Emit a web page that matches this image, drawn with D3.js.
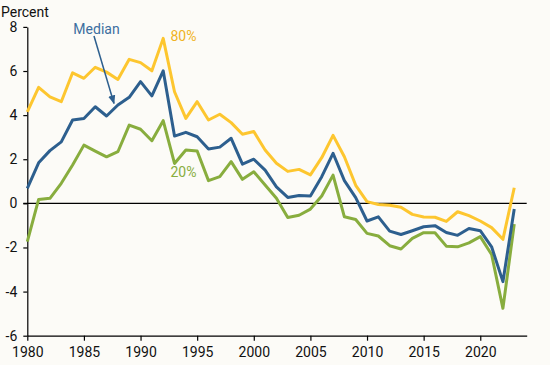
<!DOCTYPE html>
<html>
  <head>
    <meta charset="utf-8">
    <title>Percentiles</title>
    <style>
      body{margin: 0; background: #fcfbf7;}
      svg{display: block; font-family: Roboto, sans-serif;}
    </style>
    <script src="https://d3js.org/d3.v7.min.js"></script>
  </head>
  <body>
    <script>

        var years = d3.range(1980, 2024);

        var p80 = [4.15, 5.26, 4.83, 4.61, 5.92, 5.67, 6.17, 5.95, 5.62, 6.53, 6.38,
                   6.01, 7.48, 5.06, 3.85, 4.61, 3.78, 4.04, 3.66, 3.13, 3.26,
                   2.42, 1.82, 1.45, 1.54, 1.29, 2.07, 3.08, 2.11, 0.82, 0.08,
                   -0.05, -0.09, -0.18, -0.50, -0.62, -0.63, -0.82, -0.38, -0.56, -0.80,
                   -1.10, -1.63, 0.71];

        var median = [0.68, 1.84, 2.39, 2.79, 3.78, 3.85, 4.38, 3.96, 4.46, 4.81, 5.52,
                      4.87, 6.01, 3.05, 3.22, 3.02, 2.46, 2.55, 2.95, 1.78, 2.00,
                      1.51, 0.75, 0.27, 0.36, 0.33, 1.21, 2.27, 1.03, 0.26, -0.80,
                      -0.61, -1.26, -1.41, -1.24, -1.06, -1.01, -1.32, -1.45, -1.14, -1.24,
                      -1.97, -3.55, -0.26];

        var p20 = [-1.74, 0.18, 0.23, 0.91, 1.74, 2.64, 2.37, 2.11, 2.34, 3.55, 3.36,
                   2.84, 3.75, 1.81, 2.42, 2.37, 1.03, 1.21, 1.89, 1.09, 1.43,
                   0.83, 0.23, -0.64, -0.54, -0.26, 0.33, 1.28, -0.61, -0.73, -1.36,
                   -1.48, -1.92, -2.07, -1.59, -1.33, -1.33, -1.94, -1.97, -1.79, -1.51,
                   -2.32, -4.76, -0.94];

        var yTicks = [-6, -4, -2, 0, 2, 4, 6, 8];
        var xTicks = [1980, 1985, 1990, 1995, 2000, 2005, 2010, 2015, 2020];

        var width = 550;
        var height = 365;

        var svg = d3.select("body").append("svg")
            .attr("width", width)
            .attr("height", height);

        var x = d3.scaleLinear().domain([1980, 2024.1]).range([27.3, 526.7]);
        var y = d3.scaleLinear().domain([-6, 8]).range([335.7, 26.9]);

        // zero line
        svg.append("line")
            .attr("x1", x(1980) - 4).attr("x2", x(2024.1))
            .attr("y1", y(0)).attr("y2", y(0))
            .attr("stroke", "#000").attr("stroke-width", 1.2);

        var yAxis = svg.append("g")
            .attr("transform", "translate(" + x(1980) + ",0)")
            .call(d3.axisLeft(y).tickValues(yTicks).tickFormat(function (d) { return String(d); })
                .tickSize(4).tickSizeOuter(0).tickPadding(6));

        var xAxis = svg.append("g")
            .attr("transform", "translate(0," + y(-6) + ")")
            .call(d3.axisBottom(x).tickValues(xTicks).tickFormat(d3.format("d")).tickSize(5).tickSizeOuter(0).tickPadding(6));

        [yAxis, xAxis].forEach(function (g) {
            g.selectAll("path, line").attr("stroke", "#000").attr("stroke-width", 1.2);
            g.selectAll("text").attr("fill", "#111").style("font-size", "14px").style("font-family", "Roboto, sans-serif");
        });

        svg.append("text")
            .attr("x", 1).attr("y", 17)
            .attr("fill", "#111")
            .style("font-size", "14px")
            .text("Percent");

        var line = d3.line()
            .x(function (d, i) { return x(years[i]); })
            .y(function (d) { return y(d); });

        var series = [
            {name: "80%", values: p80, color: "#fdc62f"},
            {name: "20%", values: p20, color: "#88ad3e"},
            {name: "Median", values: median, color: "#2d5f8e"}
        ];

        svg.selectAll(".series").data(series)
            .enter()
            .append("path")
            .attr("class", "series")
            .attr("d", function (d) { return line(d.values); })
            .attr("fill", "none")
            .attr("stroke", function (d) { return d.color; })
            .attr("stroke-width", 3)
            .attr("stroke-linejoin", "round");

        // labels
        svg.append("text").attr("x", 170.5).attr("y", 41)
            .attr("fill", "#f0b323").style("font-size", "14px").text("80%");
        svg.append("text").attr("x", 170.5).attr("y", 177)
            .attr("fill", "#88ad3e").style("font-size", "14px").text("20%");
        svg.append("text").attr("x", 96.5).attr("y", 34)
            .attr("text-anchor", "middle")
            .attr("fill", "#3c6ea0").style("font-size", "14px").text("Median");

        // arrow to the median line
        svg.append("defs").append("marker")
            .attr("id", "head")
            .attr("viewBox", "0 0 10 10")
            .attr("refX", 9).attr("refY", 5)
            .attr("markerWidth", 6).attr("markerHeight", 6)
            .attr("orient", "auto")
            .append("path")
            .attr("d", "M0,1L10,5L0,9z")
            .attr("fill", "#2d5f8e");

        svg.append("line")
            .attr("x1", 94).attr("y1", 36)
            .attr("x2", 114).attr("y2", 103.5)
            .attr("stroke", "#2d5f8e").attr("stroke-width", 1.5)
            .attr("marker-end", "url(#head)");

    </script>
  </body>
</html>
